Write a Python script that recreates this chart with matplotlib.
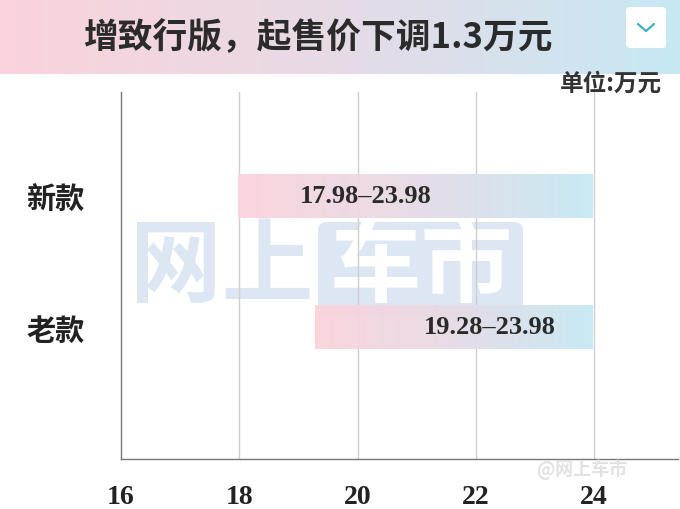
import numpy as np
import matplotlib
matplotlib.use("Agg")
import matplotlib.pyplot as plt
from matplotlib.colors import LinearSegmentedColormap
from matplotlib.patches import FancyBboxPatch

# ── data ──────────────────────────────────────────────────────────────────────
categories = ["老款", "新款"]
price_low  = [19.28, 17.98]
price_high = [23.98, 23.98]
bar_labels = ["19.28–23.98", "17.98–23.98"]
xticks     = [16, 18, 20, 22, 24]
title      = "增致行版，起售价下调1.3万元"
unit_text  = "单位:万元"

CJK = ["Noto Sans CJK SC", "DejaVu Sans"]
SERIF = ["Liberation Serif", "DejaVu Serif"]

pink_blue = LinearSegmentedColormap.from_list("pb", ["#fbd3dc", "#e6dbe6", "#c6e9f4"])
grad = np.linspace(0, 1, 256).reshape(1, -1)

W, H = 680, 510
fig = plt.figure(figsize=(6.8, 5.1), dpi=100)

# ── title banner ──────────────────────────────────────────────────────────────
ban = fig.add_axes([0, 1 - 75 / H, 1, 75 / H])
ban.imshow(grad, aspect="auto", cmap=pink_blue, extent=[0, W, 0, 75])
ban.set_xlim(0, W)
ban.set_ylim(0, 75)
ban.axis("off")
ban.text(318, 37, title, ha="center", va="center", fontsize=25,
         fontweight="bold", color="#2b2b2b", family=CJK)
box = FancyBboxPatch((626, 26), 40, 41, boxstyle="round,pad=0,rounding_size=4",
                     facecolor="white", edgecolor="none")
ban.add_patch(box)
ban.plot([638, 646, 654], [50, 43, 50], color="#3ab3c3", lw=1.6,
         solid_capstyle="round")

# ── main chart ────────────────────────────────────────────────────────────────
ax = fig.add_axes([121 / W, 50 / H, 557 / W, 367 / H])
ax.set_xlim(16, 25.42)
ax.set_ylim(-1.008, 1.794)

for x in xticks[1:]:
    ax.axvline(x, color="#cfcfcf", lw=1.0, zorder=1)

# watermark (figure pixel coords, drawn under the bars)
wm_col = "#dde6f3"
wm_box = FancyBboxPatch((318 / W, 1 - 318 / H), 205 / W, 95 / H,
                        boxstyle="round,pad=0,rounding_size=0.015",
                        transform=fig.transFigure, facecolor=wm_col,
                        edgecolor="none", zorder=0.5, clip_on=False)
ax.add_patch(wm_box)
fig_px = lambda px, py: (px / W, 1 - py / H)
ax.text(*fig_px(222, 268), "网上", transform=fig.transFigure, ha="center",
        va="center", fontsize=66, fontweight="bold", color=wm_col,
        family=CJK, zorder=0.6)
ax.text(*fig_px(421, 268), "车市", transform=fig.transFigure, ha="center",
        va="center", fontsize=66, fontweight="bold", color="white",
        family=CJK, zorder=0.6)

ypos = np.arange(len(categories))
bar_h = 0.33
label_frac = [0.63, 0.36]
for y, lo, hi, lab, fr in zip(ypos, price_low, price_high, bar_labels, label_frac):
    ax.imshow(grad, aspect="auto", cmap=pink_blue, zorder=2, alpha=0.95,
              extent=[lo, hi, y - bar_h / 2, y + bar_h / 2])
    ax.text(lo + (hi - lo) * fr, y, lab, ha="center", va="center",
            fontsize=19, fontweight="bold", color="#2a2a2a", family=SERIF, zorder=4)

ax.set_yticks(ypos)
ax.set_yticklabels(categories, family=CJK, fontsize=21, fontweight="bold",
                   color="#222222")
ax.set_xticks(xticks)
ax.set_xticklabels([str(t) for t in xticks], family=SERIF, fontsize=20,
                   fontweight="bold", color="#222222")
ax.tick_params(axis="both", length=0)
ax.tick_params(axis="x", pad=18)
ax.tick_params(axis="y", pad=26)

for s in ["top", "right"]:
    ax.spines[s].set_visible(False)
for s in ["left", "bottom"]:
    ax.spines[s].set_color("#777777")
    ax.spines[s].set_linewidth(1.0)

fig.text(662 / W, 1 - 84 / H, unit_text, ha="right", va="center",
         fontsize=17, fontweight="bold", color="#333333", family=CJK)
fig.text(582 / W, 1 - 470 / H, "@网上车市", ha="center", va="center",
         fontsize=13, fontweight="bold", color="#e2e2e2", family=CJK)

fig.savefig("out.png", dpi=100)
